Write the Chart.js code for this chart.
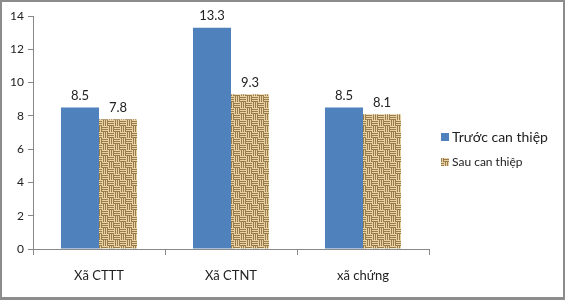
<!DOCTYPE html>
<html>
<head>
<meta charset="utf-8">
<script src="https://cdn.jsdelivr.net/npm/chart.js@4"></script>
<style>
  html, body { margin: 0; padding: 0; background: #fff; }
  #frame { position: relative; width: 565px; height: 300px; box-sizing: border-box; border: 2px solid #8c8c8c; border-bottom-width: 3px; }
  #frame canvas { position: absolute; left: -2px; top: -2px; }
</style>
</head>
<body>
<div id="frame"><canvas id="chart" width="565" height="300"></canvas></div>
<script>
  // chart values
  const categories = ['Xã CTTT', 'Xã CTNT', 'xã chứng'];
  const beforeValues = [8.5, 13.3, 8.5];
  const afterValues = [7.8, 9.3, 8.1];
  const seriesNames = ['Trước can thiệp', 'Sau can thiệp'];
  const yTicks = [0, 2, 4, 6, 8, 10, 12, 14];

  const fontFamily = 'Lato, "Open Sans", sans-serif';
  const blue = '#4f81bd';

  // woven burlap look for the second series
  function makeBurlap() {
    const c = document.createElement('canvas');
    c.width = 12; c.height = 12;
    const g = c.getContext('2d');
    g.fillStyle = '#c4a670';
    g.fillRect(0, 0, 12, 12);
    for (let by = 0; by < 12; by += 6) {
      for (let bx = 0; bx < 12; bx += 6) {
        const horiz = ((bx + by) / 6) % 2 === 0;
        for (let i = 0; i < 6; i += 2) {
          g.fillStyle = '#e6d3a4';
          if (horiz) g.fillRect(bx, by + i, 6, 1); else g.fillRect(bx + i, by, 1, 6);
          g.fillStyle = '#9c7c4a';
          if (horiz) g.fillRect(bx, by + i + 1, 6, 1); else g.fillRect(bx + i + 1, by, 1, 6);
        }
      }
    }
    return g.createPattern(c, 'repeat');
  }
  const burlap = makeBurlap();

  const valueLabels = {
    id: 'valueLabels',
    afterDatasetsDraw(chart) {
      const ctx = chart.ctx;
      ctx.save();
      ctx.font = '13px ' + fontFamily;
      ctx.fillStyle = '#222';
      ctx.textAlign = 'center';
      ctx.textBaseline = 'bottom';
      chart.data.datasets.forEach((ds, i) => {
        chart.getDatasetMeta(i).data.forEach((bar, j) => {
          ctx.fillText(ds.data[j].toString(), bar.x, bar.y - 5);
        });
      });
      ctx.restore();
    }
  };

  const sideLegend = {
    id: 'sideLegend',
    afterDraw(chart) {
      const ctx = chart.ctx;
      const x = chart.chartArea.right + 12;
      const rows = [
        { y: 137, size: 14, fill: blue },
        { y: 162, size: 12, fill: burlap }
      ];
      ctx.save();
      chart.data.datasets.forEach((ds, i) => {
        const r = rows[i];
        ctx.fillStyle = r.fill;
        ctx.fillRect(x, r.y - 4, 8, 8);
        ctx.fillStyle = '#222';
        ctx.font = r.size + 'px ' + fontFamily;
        ctx.textBaseline = 'middle';
        ctx.textAlign = 'left';
        ctx.fillText(ds.label, x + 11, r.y);
      });
      ctx.restore();
    }
  };

  new Chart(document.getElementById('chart'), {
    type: 'bar',
    data: {
      labels: categories,
      datasets: [
        { label: seriesNames[0], data: beforeValues, backgroundColor: blue },
        { label: seriesNames[1], data: afterValues, backgroundColor: burlap }
      ]
    },
    options: {
      responsive: false,
      animation: false,
      layout: { padding: { top: 16, right: 136, left: 0, bottom: 0 } },
      datasets: { bar: { categoryPercentage: 0.576, barPercentage: 1 } },
      plugins: { legend: { display: false }, tooltip: { enabled: false } },
      scales: {
        x: {
          grid: { display: true, drawOnChartArea: false, color: '#888', tickLength: 6, offset: true },
          border: { color: '#888' },
          ticks: { color: '#222', font: { family: fontFamily, size: 13 }, padding: 13 },
          afterFit: scale => { scale.height = 51; }
        },
        y: {
          min: 0,
          max: 14,
          afterBuildTicks: scale => { scale.ticks = yTicks.map(v => ({ value: v })); },
          grid: { display: true, drawOnChartArea: false, color: '#888', tickLength: 5 },
          border: { color: '#888' },
          ticks: { color: '#222', font: { family: fontFamily, size: 12 }, padding: 4 },
          afterFit: scale => { scale.width = 33; }
        }
      }
    },
    plugins: [valueLabels, sideLegend]
  });
</script>
</body>
</html>
